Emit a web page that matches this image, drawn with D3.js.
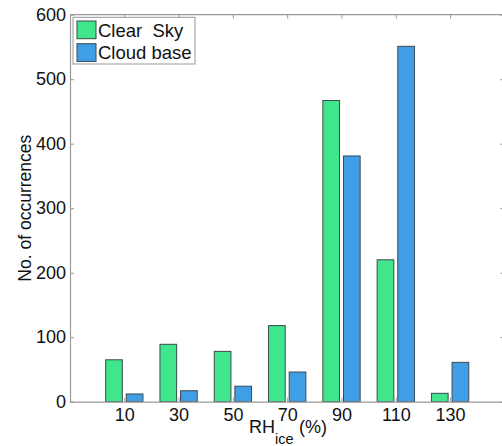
<!DOCTYPE html>
<html>
<head>
<meta charset="utf-8">
<script src="https://cdn.jsdelivr.net/npm/d3@7"></script>
<style>
  html, body { margin: 0; padding: 0; background: #fff; }
  svg { display: block; font-family: "Liberation Sans", Arial, Helvetica, sans-serif; }
</style>
</head>
<body>
<svg id="chart" width="502" height="446"></svg>
<script>
// RH_ice bins (%) and counts for each condition
const categories = ["10", "30", "50", "70", "90", "110", "130"];
const clearSky   = [65, 89, 78, 118, 467, 220, 13];
const cloudBase  = [12, 17, 24, 46, 381, 551, 61];
const yTicks     = [0, 100, 200, 300, 400, 500, 600];
const seriesNames = ["Clear  Sky", "Cloud base"];
const seriesColors = ["#40e68c", "#409ee6"];

const svg = d3.select("#chart");
const x0 = 70, x1 = 504.4, yTop = 14.7, yBot = 401.7;

// Bin positions 1..7 on a 0..8 axis
const x = d3.scaleLinear().domain([0, 8]).range([x0, x1]);
const y = d3.scaleLinear().domain([0, 600]).range([yBot, yTop]);

const unit = x(1) - x(0);
const barW = 0.307 * unit;
const offset = 0.19 * unit;

const axisColor = "#999";
const textColor = "#111";
const fontSize = 18;

// Box lines on top and right
svg.append("line").attr("x1", x0).attr("x2", x1).attr("y1", yTop).attr("y2", yTop)
  .attr("stroke", axisColor).attr("stroke-width", 1.2);
svg.append("line").attr("x1", x1).attr("x2", x1).attr("y1", yTop).attr("y2", yBot)
  .attr("stroke", axisColor).attr("stroke-width", 1.2);

// Bars
const series = [clearSky, cloudBase];
series.forEach((vals, si) => {
  svg.append("g").selectAll("rect")
    .data(vals)
    .join("rect")
    .attr("x", (d, i) => x(i + 1) + (si === 0 ? -offset : offset) - barW / 2)
    .attr("y", d => y(d))
    .attr("width", barW)
    .attr("height", d => yBot - y(d))
    .attr("fill", seriesColors[si])
    .attr("stroke", "#3c4a50")
    .attr("stroke-width", 1);
});

// Left axis (ticks pointing inward)
const yAxis = d3.axisLeft(y).tickValues(yTicks).tickSize(-4).tickPadding(4).tickSizeOuter(0);
const gy = svg.append("g").attr("transform", `translate(${x0},0)`).call(yAxis);
gy.select(".domain").attr("stroke", axisColor).attr("stroke-width", 1.2);
gy.selectAll(".tick line").attr("stroke", axisColor);
gy.selectAll(".tick text").attr("font-size", fontSize).attr("fill", textColor)
  .attr("font-family", "Liberation Sans, Arial, sans-serif");

// Right axis ticks (inward)
const yAxisR = d3.axisRight(y).tickValues(yTicks).tickSize(-4).tickFormat("").tickSizeOuter(0);
const gyr = svg.append("g").attr("transform", `translate(${x1},0)`).call(yAxisR);
gyr.select(".domain").remove();
gyr.selectAll(".tick line").attr("stroke", axisColor);

// Bottom axis
const xAxis = d3.axisBottom(x).tickValues(d3.range(1, 8)).tickFormat((d) => categories[d - 1])
  .tickSize(-4).tickPadding(7).tickSizeOuter(0);
const gx = svg.append("g").attr("transform", `translate(0,${yBot})`).call(xAxis);
gx.select(".domain").attr("stroke", axisColor).attr("stroke-width", 1.2);
gx.selectAll(".tick line").attr("stroke", axisColor);
gx.selectAll(".tick text").attr("font-size", fontSize).attr("fill", textColor)
  .attr("font-family", "Liberation Sans, Arial, sans-serif");

// Top axis ticks
const xAxisT = d3.axisTop(x).tickValues(d3.range(1, 8)).tickFormat("").tickSize(-4).tickSizeOuter(0);
const gxt = svg.append("g").attr("transform", `translate(0,${yTop})`).call(xAxisT);
gxt.select(".domain").remove();
gxt.selectAll(".tick line").attr("stroke", axisColor);

// X label: RH_ice (%)
const xl = svg.append("text").attr("x", 249).attr("y", 433)
  .attr("font-size", fontSize).attr("fill", textColor);
xl.append("tspan").text("RH");
xl.append("tspan").attr("dy", 10.5).attr("font-size", 14.5).text("ice");
xl.append("tspan").attr("x", 299).attr("dy", -10.5).text("(%)");

// Y label
svg.append("text")
  .attr("transform", `translate(31,${(yTop + yBot) / 2}) rotate(-90)`)
  .attr("text-anchor", "middle")
  .attr("font-size", 17.5).attr("fill", textColor)
  .text("No. of occurrences");

// Legend
const lg = svg.append("g");
lg.append("rect").attr("x", 73).attr("y", 17.3).attr("width", 122).attr("height", 46.7)
  .attr("fill", "#fff").attr("stroke", "#999").attr("stroke-width", 1);
seriesNames.forEach((name, i) => {
  const yy = 21 + i * 22.7;
  lg.append("rect").attr("x", 77).attr("y", yy).attr("width", 19).attr("height", 17.7)
    .attr("fill", seriesColors[i]).attr("stroke", "#3c4a50").attr("stroke-width", 1);
  lg.append("text").attr("x", 98).attr("y", yy + 15.5)
    .attr("font-size", 18.5).attr("fill", textColor)
    .attr("xml:space", "preserve").style("white-space", "pre")
    .text(name);
});
</script>
</body>
</html>
